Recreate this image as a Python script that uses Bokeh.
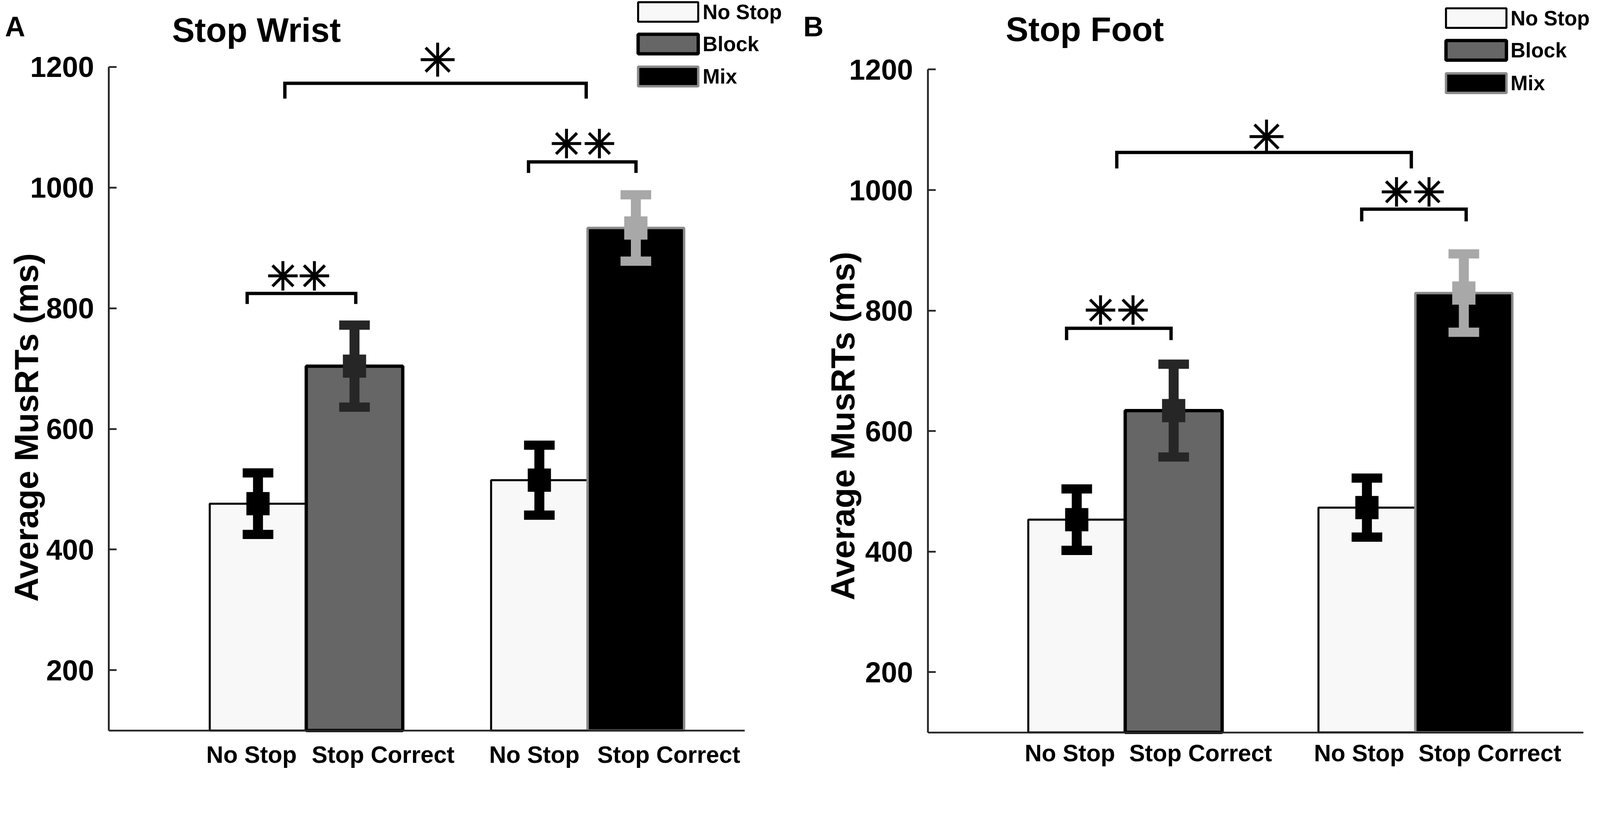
import math
from bokeh.plotting import figure
from bokeh.models import Range1d, LinearAxis, FixedTicker, ColumnDataSource
from bokeh.layouts import row
from bokeh.embed import file_html
from bokeh.resources import INLINE
from bokeh.core.properties import value

# ---------------- data ----------------
groups = [1, 2]
conditions = ["No Stop", "Stop Correct", "No Stop", "Stop Correct"]
bar_kind = ["nostop", "block", "nostop", "mix"]
bar_group = [1, 1, 2, 2]
bar_side = [-1, 1, -1, 1]
legend_labels = ["No Stop", "Block", "Mix"]
legend_kind = ["nostop", "block", "mix"]
y_ticks = [200, 400, 600, 800, 1000, 1200]

wrist_mean = [476, 704, 515, 933]
wrist_err = [51, 68, 58, 55]
foot_mean = [453, 634, 473, 829]
foot_err = [51, 77, 49, 65]

# significance brackets: x_left, x_right (group units), y_top, y_leg (ms)
wrist_br_x0 = [0.924, 0.790, 1.790]
wrist_br_x1 = [1.995, 1.176, 2.172]
wrist_br_top = [1172.8, 824.5, 1042.6]
wrist_br_leg = [1147.4, 807.0, 1024.3]
wrist_star_x = [[1.467], [0.917, 1.029], [1.925, 2.042]]
wrist_star_y = [1212.0, 853.7, 1073.0]

foot_br_x0 = [0.971, 0.798, 1.815]
foot_br_x1 = [1.986, 1.158, 2.175]
foot_br_top = [1062.4, 770.5, 968.2]
foot_br_leg = [1035.8, 751.0, 948.0]
foot_star_x = [[1.487], [0.915, 1.027], [1.935, 2.047]]
foot_star_y = [1088.7, 800.8, 997.0]

# ---------------- styles ----------------
S = 0.944
FONT = "Liberation Sans"
FILL = {"nostop": "#f8f8f8", "block": "#666666", "mix": "#000000"}
EDGE = {"nostop": "#000000", "block": "#000000", "mix": "#8a8a8a"}
EDGE_W = {"nostop": 5.5, "block": 9.0, "mix": 6.5}
ERRC = {"nostop": "#000000", "block": "#262626", "mix": "#a8a8a8"}
AXC = "#262626"


def fs(v):
    return value(f"{v * S:.1f}px")


def make_panel(letter, title, means, errs, br, stars, L):
    W, H = L["W"], 2084
    g1, ppg, ay, ppu = L["g1"], L["ppg"], L["ay"], L["ppu"]

    def xd(px):
        return 1 + (px - g1) / ppg

    def yd(py):
        return 100 + (ay - py) / ppu

    p = figure(width=round(W * S), height=round(H * S), output_backend="svg",
               toolbar_location=None, x_axis_type=None, y_axis_type=None,
               x_range=Range1d(xd(0), xd(W)), y_range=Range1d(yd(H), yd(0)),
               min_border=0, outline_line_color=None, background_fill_color="white",
               border_fill_color="white")

    yax = LinearAxis(fixed_location=L["yax"], bounds=(100, 1200),
                     ticker=FixedTicker(ticks=y_ticks))
    yax.axis_line_color = AXC
    yax.axis_line_width = 5 * S
    yax.major_tick_line_color = AXC
    yax.major_tick_line_width = 5 * S
    yax.major_tick_in = round(21 * S)
    yax.major_tick_out = 0
    yax.minor_tick_line_color = None
    yax.major_label_text_font = FONT
    yax.major_label_text_font_style = "bold"
    yax.major_label_text_font_size = f"{78 * S:.1f}px"
    yax.major_label_text_color = "black"
    yax.major_label_standoff = round(40 * S)
    p.add_layout(yax, "left")

    xax = LinearAxis(fixed_location=100, bounds=(L["yax"], L["xend"]),
                     ticker=FixedTicker(ticks=[]))
    xax.axis_line_color = AXC
    xax.axis_line_width = 5 * S
    xax.major_tick_line_color = None
    xax.minor_tick_line_color = None
    xax.major_label_text_font_size = "0px"
    p.add_layout(xax, "below")

    bw = L["bw"]
    xs = [g + sd * bw / 2 for g, sd in zip(bar_group, bar_side)]
    src = ColumnDataSource(dict(
        x=xs, top=means, lo=[m - e for m, e in zip(means, errs)],
        hi=[m + e for m, e in zip(means, errs)],
        fill=[FILL[k] for k in bar_kind], edge=[EDGE[k] for k in bar_kind],
        ew=[EDGE_W[k] * S for k in bar_kind], ec=[ERRC[k] for k in bar_kind]))
    p.vbar(x="x", width=bw, bottom=100, top="top", fill_color="fill",
           line_color="edge", line_width="ew", source=src)
    # error bars
    p.segment(x0="x", y0="lo", x1="x", y1="hi", line_color="ec",
              line_width=27 * S, line_cap="butt", source=src)
    for col in ("lo", "hi"):
        p.rect(x="x", y=col, width=83 * S, height=25 * S, width_units="screen",
               height_units="screen", fill_color="ec", line_color=None, source=src)
    p.scatter(x="x", y="top", marker="square", size=63 * S, fill_color="ec",
              line_color=None, source=src)

    # brackets
    x0s, x1s, tops, legs = br
    p.multi_line(xs=[[a, a, b, b] for a, b in zip(x0s, x1s)],
                 ys=[[l, t, t, l] for t, l in zip(tops, legs)],
                 line_color="black", line_width=9 * S, line_join="miter")
    sx, sy = stars
    for xl, yv in zip(sx, sy):
        size = 92 if len(xl) == 1 else 80
        p.scatter(x=xl, y=[yv] * len(xl), marker="asterisk", size=size * S,
                  line_color="black", line_width=8 * S)

    # legend
    lx0, lx1 = xd(L["leg_x0"]), xd(L["leg_x1"])
    ly = [yd(v) for v in L["leg_rows"]]
    p.rect(x=[(lx0 + lx1) / 2] * 3, y=ly, width=lx1 - lx0, height=53 * S,
           height_units="screen", fill_color=[FILL[k] for k in legend_kind],
           line_color=[EDGE[k] for k in legend_kind],
           line_width=[EDGE_W[k] * S for k in legend_kind])
    p.text(x=[xd(L["leg_tx"])] * 3, y=ly, text=legend_labels, text_font=value(FONT),
           text_font_style="bold", text_font_size=fs(56), text_align="left",
           text_baseline="middle", text_color="black")

    # titles / labels
    p.text(x=[xd(L["title_x"])], y=[yd(L["title_y"])], text=[title],
           text_font=value(FONT), text_font_style="bold", text_font_size=fs(92),
           text_align="left", text_baseline="alphabetic", text_color="black")
    p.text(x=[xd(L["let_x"])], y=[yd(L["let_y"])], text=[letter],
           text_font=value(FONT), text_font_style="bold", text_font_size=fs(76),
           text_align="left", text_baseline="alphabetic", text_color="black")
    p.text(x=[xd(L["yl_x"])], y=[yd(L["yl_y"])], text=["Average MusRTs (ms)"],
           angle=math.pi / 2, text_font=value(FONT), text_font_style="bold",
           text_font_size=fs(91), text_align="center", text_baseline="alphabetic",
           text_color="black")
    p.text(x=[xd(v) for v in L["xl_x"]], y=[yd(L["xl_y"])] * 4, text=conditions,
           text_font=value(FONT), text_font_style="bold", text_font_size=fs(64),
           text_align="center", text_baseline="alphabetic", text_color="black")
    return p


LA = dict(W=2160, g1=830, ppg=763, ay=1981, ppu=1.6364, bw=0.343,
          yax=0.2988, xend=2.558,
          leg_x0=1730, leg_x1=1893, leg_rows=[32, 119, 207], leg_tx=1905,
          title_x=466, title_y=80, let_x=13, let_y=72, yl_x=70, yl_y=1159,
          xl_x=[681.5, 1038.5, 1448.5, 1813], xl_y=2046)
LB = dict(W=2157, g1=891, ppg=787, ay=1986, ppu=1.6345, bw=0.334,
          yax=0.3202, xend=2.5794,
          leg_x0=1761, leg_x1=1925, leg_rows=[48.5, 136, 225], leg_tx=1936,
          title_x=567, title_y=78, let_x=18, let_y=72, yl_x=125, yl_y=1155,
          xl_x=[741, 1095.5, 1525.5, 1880], xl_y=2042)

pa = make_panel("A", "Stop Wrist", wrist_mean, wrist_err,
                (wrist_br_x0, wrist_br_x1, wrist_br_top, wrist_br_leg),
                (wrist_star_x, wrist_star_y), LA)
pb = make_panel("B", "Stop Foot", foot_mean, foot_err,
                (foot_br_x0, foot_br_x1, foot_br_top, foot_br_leg),
                (foot_star_x, foot_star_y), LB)

layout = row(pa, pb, spacing=0)
open("out.html", "w").write(file_html(layout, INLINE))
